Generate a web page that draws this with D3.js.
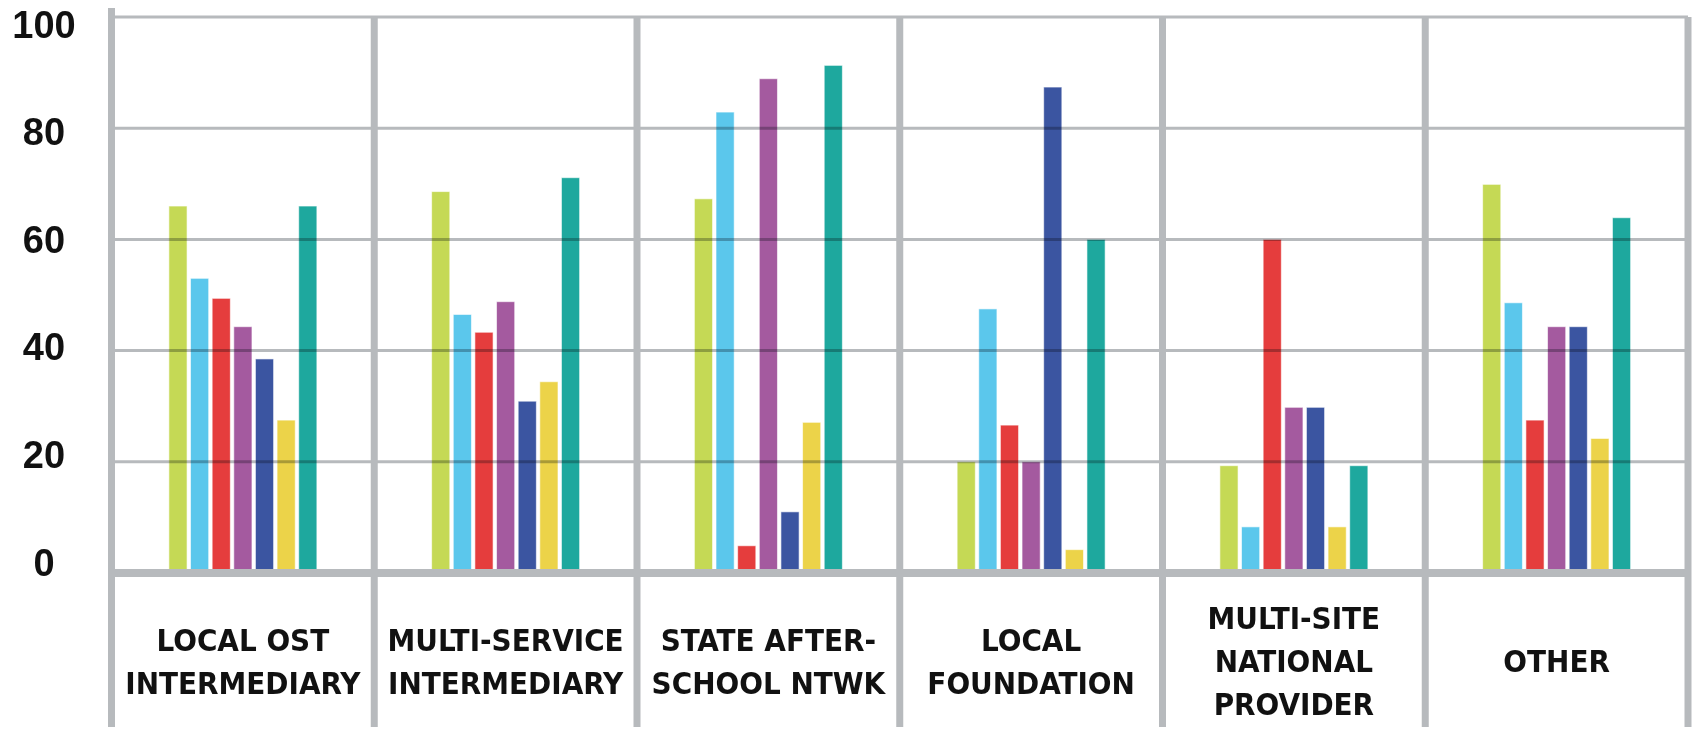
<!DOCTYPE html>
<html>
<head>
<meta charset="utf-8">
<script src="https://cdn.jsdelivr.net/npm/d3@7"></script>
<style>
  html, body { margin: 0; padding: 0; background: #fff; }
  svg { display: block; }
  .ylab text { font-family: "Liberation Sans", Arial, sans-serif; font-weight: bold; font-size: 38px; fill: #111; }
  .cat { font-family: "Liberation Sans Narrow", "DejaVu Sans Condensed", sans-serif; font-weight: bold; font-size: 31px; fill: #111; }
</style>
</head>
<body>
<script>
// categories (x groups), one array per coloured series, y tick labels
const categories = [
    "LOCAL OST\nINTERMEDIARY",
    "MULTI-SERVICE\nINTERMEDIARY",
    "STATE AFTER-\nSCHOOL NTWK",
    "LOCAL\nFOUNDATION",
    "MULTI-SITE\nNATIONAL\nPROVIDER",
    "OTHER"
];
const lime   = [66.0, 68.6, 67.3, 20.0, 19.3, 69.9];
const sky    = [53.0, 46.5, 82.9, 47.5,  8.3, 48.6];
const red    = [49.4, 43.3,  4.9, 26.6, 60.0, 27.5];
const purple = [44.3, 48.8, 88.9, 20.0, 29.8, 44.3];
const navy   = [38.5, 30.9, 11.0, 87.4, 29.8, 44.3];
const yellow = [27.5, 34.4, 27.1,  4.2,  8.3, 24.2];
const teal   = [66.0, 71.1, 91.3, 60.0, 19.3, 63.9];
const yTicks = [0, 20, 40, 60, 80, 100];

const series = [lime, sky, red, purple, navy, yellow, teal];
const colors = ["#c5d955", "#5bc7ec", "#e53d3d", "#a45a9f", "#3b55a1", "#ecd349", "#1ea89e"];
const grey = "#b7babd";

const W = 1696, H = 741;
const plotL = 111.5, plotR = 1688, plotT = 17, base = 573, plotB = 727;

const svg = d3.select("body").append("svg")
    .attr("width", W)
    .attr("height", H);

const x0 = d3.scaleBand().domain(categories).range([plotL, plotR]);
const x1 = d3.scaleBand().domain(d3.range(series.length)).range([-74, 74]).paddingInner(0.16);
const y = d3.scaleLinear().domain([0, 100]).range([base, plotT]);
// tick labels sit on a slightly tighter scale than the grid in the original
const yLab = d3.scaleLinear().domain([0, 100]).range([563, 25]);

const mid = c => x0(c) + x0.bandwidth() / 2;

// bars
const groups = svg.append("g").selectAll("g")
    .data(categories)
    .join("g")
    .attr("transform", c => `translate(${mid(c)},0)`);

groups.selectAll("rect")
    .data((c, ci) => series.map((s, si) => ({ si, v: s[ci] })))
    .join("rect")
    .attr("x", d => x1(d.si))
    .attr("width", x1.bandwidth())
    .attr("y", d => y(d.v))
    .attr("height", d => base - y(d.v))
    .attr("fill", d => colors[d.si])
    .attr("stroke", "rgba(255,255,255,0.6)")
    .attr("stroke-width", 1);

// horizontal grid, laid over the bars
svg.append("g")
    .style("mix-blend-mode", "multiply")
    .selectAll("line")
    .data(yTicks.filter(t => t > 0))
    .join("line")
    .attr("x1", plotL)
    .attr("x2", plotR)
    .attr("y1", d => y(d))
    .attr("y2", d => y(d))
    .attr("stroke", grey)
    .attr("stroke-width", 3);

// vertical separators
svg.append("g")
    .selectAll("line")
    .data(categories.map(c => x0(c)).concat([plotR]))
    .join("line")
    .attr("x1", d => d)
    .attr("x2", d => d)
    .attr("y1", (d, i) => i === 0 ? 8 : plotT)
    .attr("y2", plotB)
    .attr("stroke", grey)
    .attr("stroke-width", 7);

// baseline
svg.append("line")
    .attr("x1", plotL)
    .attr("x2", plotR)
    .attr("y1", base)
    .attr("y2", base)
    .attr("stroke", grey)
    .attr("stroke-width", 8);

// y tick labels
const ya = svg.append("g")
    .attr("class", "ylab")
    .attr("transform", "translate(44,0)")
    .call(d3.axisLeft(yLab).tickValues(yTicks).tickSize(0).tickPadding(0));
ya.select(".domain").remove();
ya.selectAll("text").attr("text-anchor", "middle").attr("x", 0);

// category labels
const lineH = 43;
svg.append("g").selectAll("text")
    .data(categories)
    .join("text")
    .attr("class", "cat")
    .attr("text-anchor", "middle")
    .attr("x", mid)
    .each(function(c) {
        const lines = c.split("\n");
        d3.select(this).selectAll("tspan")
            .data(lines)
            .join("tspan")
            .attr("x", mid(c))
            .attr("y", (l, i) => 661 + 11 + (i - (lines.length - 1) / 2) * lineH)
            .text(l => l);
    });
</script>
</body>
</html>
